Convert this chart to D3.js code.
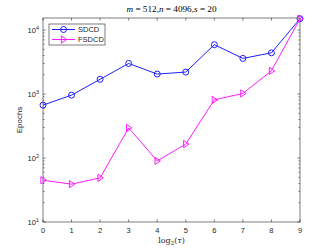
<!DOCTYPE html>
<html>
<head>
<meta charset="utf-8">
<script src="https://cdn.jsdelivr.net/npm/d3@7"></script>
<style>
  body { margin: 0; background: #fff; }
  svg { display: block; font-family: "Liberation Sans", Arial, sans-serif; }
</style>
</head>
<body>
<svg id="chart" width="332" height="249"></svg>
<script>
// data
var tau = [0, 1, 2, 3, 4, 5, 6, 7, 8, 9];
var sdcd = [670, 960, 1700, 3000, 2050, 2200, 5900, 3600, 4400, 15000];
var fsdcd = [45, 39, 49, 295, 90, 165, 810, 1020, 2300, 15000];
var seriesNames = ["SDCD", "FSDCD"];
var yTickPowers = [1, 2, 3, 4];

var margin = { top: 18, right: 32, bottom: 27, left: 43 },
	width = 332 - margin.left - margin.right,
	height = 249 - margin.top - margin.bottom;

var svg = d3.select("#chart");
var g = svg.append("g").attr("transform", "translate(" + margin.left + "," + margin.top + ")");

var x = d3.scaleLinear().domain([0, 9]).range([0, width]);
var y = d3.scaleLog().domain([10, 15400]).range([height, 0]);

var axisColor = "#262626";

// minor log ticks
var minor = [];
for (var p = 1; p <= 4; p++) {
	for (var k = 2; k <= 9; k++) {
		var v = k * Math.pow(10, p);
		if (v <= y.domain()[1]) minor.push(v);
	}
}

// box
g.append("rect").attr("width", width).attr("height", height)
	.attr("fill", "none").attr("stroke", axisColor).attr("stroke-width", 0.6);

// x ticks (bottom + top)
g.selectAll("line.xt").data(tau).enter().append("line")
	.attr("x1", d => x(d)).attr("x2", d => x(d))
	.attr("y1", height).attr("y2", height - 2.6)
	.attr("stroke", axisColor).attr("stroke-width", 0.6);
g.selectAll("line.xt2").data(tau).enter().append("line")
	.attr("x1", d => x(d)).attr("x2", d => x(d))
	.attr("y1", 0).attr("y2", 2.6)
	.attr("stroke", axisColor).attr("stroke-width", 0.6);
g.selectAll("text.xl").data(tau).enter().append("text")
	.attr("x", d => x(d)).attr("y", height + 11)
	.attr("text-anchor", "middle").attr("font-size", 7.5).attr("fill", axisColor)
	.text(d => d);

// y ticks (left + right)
var yMajors = yTickPowers.map(p => Math.pow(10, p));
[0, width].forEach(function(x0) {
	var dir = x0 === 0 ? 1 : -1;
	g.selectAll(null).data(yMajors).enter().append("line")
		.attr("x1", x0).attr("x2", x0 + dir * 2.6)
		.attr("y1", d => y(d)).attr("y2", d => y(d))
		.attr("stroke", axisColor).attr("stroke-width", 0.6);
	g.selectAll(null).data(minor).enter().append("line")
		.attr("x1", x0).attr("x2", x0 + dir * 1.5)
		.attr("y1", d => y(d)).attr("y2", d => y(d))
		.attr("stroke", axisColor).attr("stroke-width", 0.6);
});
var yl = g.selectAll("text.yl").data(yTickPowers).enter().append("text")
	.attr("x", -4).attr("y", d => y(Math.pow(10, d)) + 3)
	.attr("text-anchor", "end").attr("font-size", 7.5).attr("fill", axisColor);
yl.append("tspan").text("10");
yl.append("tspan").attr("dy", -3.5).attr("font-size", 5.5).text(d => d);

// axis labels
svg.append("text")
	.attr("transform", "translate(22," + (margin.top + height / 2) + ") rotate(-90)")
	.attr("text-anchor", "middle").attr("font-size", 8).attr("fill", axisColor)
	.text("Epochs");
var xlab = svg.append("text")
	.attr("x", margin.left + width / 2).attr("y", 243)
	.attr("text-anchor", "middle").attr("font-size", 8)
	.attr("font-family", "'DejaVu Serif', 'Liberation Serif', serif").attr("fill", axisColor);
xlab.append("tspan").text("log");
xlab.append("tspan").attr("dy", 2).attr("font-size", 5.5).text("2");
xlab.append("tspan").attr("dy", -2).text("(");
xlab.append("tspan").attr("font-style", "italic").text("τ");
xlab.append("tspan").text(")");

// title
var title = svg.append("text")
	.attr("x", margin.left + width / 2).attr("y", 12)
	.attr("text-anchor", "middle").attr("font-size", 9.2)
	.attr("font-family", "'Liberation Serif', 'DejaVu Serif', serif").attr("fill", "#000");
title.append("tspan").attr("font-style", "italic").text("m");
title.append("tspan").text(" = 512,");
title.append("tspan").attr("font-style", "italic").text("n");
title.append("tspan").text(" = 4096,");
title.append("tspan").attr("font-style", "italic").text("s");
title.append("tspan").text(" = 20");

// series
var colors = ["#1f1fff", "#ff1aff"];
var line = d3.line().x((d, i) => x(tau[i])).y(d => y(d));
var tri = function(cx, cy) {
	var r = 3.6;
	return "M" + (cx - r * 0.6) + "," + (cy - r) + "L" + (cx + r * 0.9) + "," + cy + "L" + (cx - r * 0.6) + "," + (cy + r) + "Z";
};

[sdcd, fsdcd].forEach(function(vals, s) {
	g.append("path").datum(vals).attr("d", line)
		.attr("fill", "none").attr("stroke", colors[s]).attr("stroke-width", 1);
	if (s === 0) {
		g.selectAll(null).data(vals).enter().append("circle")
			.attr("cx", (d, i) => x(tau[i])).attr("cy", d => y(d)).attr("r", 3)
			.attr("fill", "none").attr("stroke", colors[s]).attr("stroke-width", 1);
	} else {
		g.selectAll(null).data(vals).enter().append("path")
			.attr("d", (d, i) => tri(x(tau[i]), y(d)))
			.attr("fill", "none").attr("stroke", colors[s]).attr("stroke-width", 1);
	}
});

// legend
var lg = g.append("g").attr("transform", "translate(6,6)");
lg.append("rect").attr("width", 56).attr("height", 21)
	.attr("fill", "#fff").attr("stroke", axisColor).attr("stroke-width", 0.6);
seriesNames.forEach(function(name, s) {
	var cy = 5.5 + s * 10;
	lg.append("line").attr("x1", 3).attr("x2", 26).attr("y1", cy).attr("y2", cy)
		.attr("stroke", colors[s]).attr("stroke-width", 1);
	if (s === 0) {
		lg.append("circle").attr("cx", 14.5).attr("cy", cy).attr("r", 3)
			.attr("fill", "none").attr("stroke", colors[s]).attr("stroke-width", 1);
	} else {
		lg.append("path").attr("d", tri(14.5, cy))
			.attr("fill", "none").attr("stroke", colors[s]).attr("stroke-width", 1);
	}
	lg.append("text").attr("x", 29).attr("y", cy + 2.7)
		.attr("font-size", 7.5).attr("fill", axisColor).text(name);
});
</script>
</body>
</html>
